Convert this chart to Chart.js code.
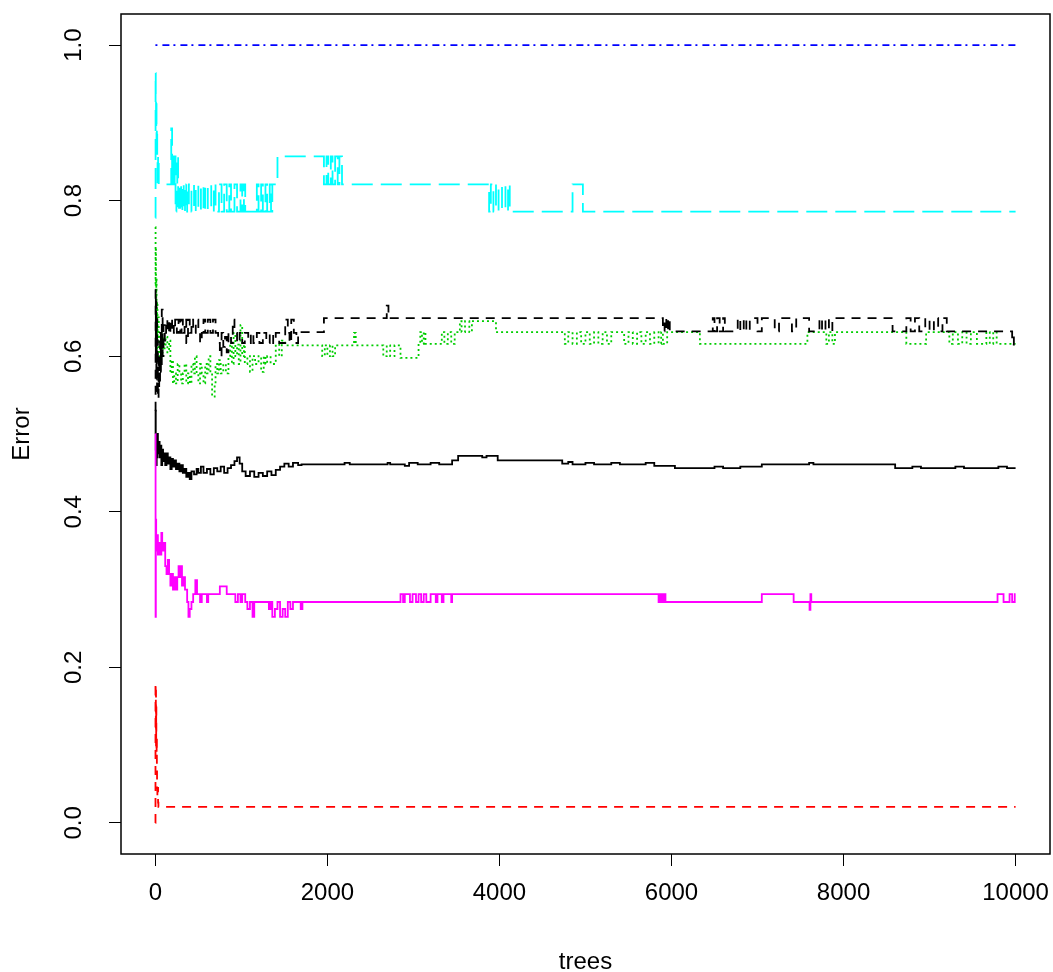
<!DOCTYPE html>
<html><head><meta charset="utf-8">
<script src="https://cdn.jsdelivr.net/npm/chart.js@4.4.1/dist/chart.umd.min.js"></script>
<style>html,body{margin:0;padding:0;background:#fff;} canvas{display:block;}</style>
</head><body>
<canvas id="c" width="1053" height="972" style="width:1053px;height:972px"></canvas>
<script>
// ---- data (trees, error) breakpoints ----
const xTicks = [0, 2000, 4000, 6000, 8000, 10000];
const yTicks = [0, 0.2, 0.4, 0.6, 0.8, 1.0];
const seriesNames = ['OOB', '1', '2', '3', '4', '5', '6'];

const oob = [[1,.50],[3,.53],[5,.48],[8,.50],[12,.46],[16,.49],[20,.47],[25,.50],[30,.475],[40,.49],[50,.47],[60,.485],[70,.46],[80,.48],[90,.465],[100,.475],[115,.46],[130,.475],[145,.462],[160,.47],[175,.455],[190,.468],[205,.458],[220,.466],[240,.455],[260,.462],[280,.452],[300,.46],[320,.45],[340,.455],[360,.445],[380,.45],[400,.442],[420,.452],[450,.448],[480,.455],[500,.45],[530,.458],[560,.45],[600,.455],[640,.448],[680,.456],[720,.452],[760,.458],[800,.45],[840,.456],[880,.46],[920,.465],[950,.47],[980,.462],[1010,.452],[1050,.446],[1100,.452],[1150,.445],[1200,.45],[1250,.446],[1300,.452],[1350,.447],[1400,.454],[1450,.458],[1500,.462],[1550,.458],[1600,.463],[1660,.46],[1700,.461],[2200,.463],[2260,.461],[2700,.463],[2730,.461],[2900,.459],[2950,.463],[3050,.461],[3200,.463],[3300,.461],[3450,.466],[3520,.472],[3800,.470],[3850,.472],[3980,.466],[4730,.462],[4800,.464],[4850,.461],[5000,.463],[5100,.461],[5300,.463],[5400,.461],[5700,.463],[5800,.459],[6040,.456],[6500,.458],[6600,.456],[6800,.458],[7050,.461],[7600,.463],[7650,.461],[8600,.456],[8800,.458],[8900,.456],[9300,.458],[9400,.456],[9800,.458],[9900,.456],[10000,.456]];

const class1 = [[1,0],[2,.18],[4,.12],[6,.17],[8,.10],[10,.15],[12,.09],[15,.11],[18,.07],[20,.045],[24,.033],[28,.045],[32,.026],[36,.0206],[10000,.0206]];

const class2 = [[1,.766],[3,.69],[5,.74],[8,.62],[11,.70],[15,.60],[20,.67],[25,.62],[30,.65],[40,.60],[55,.63],[70,.605],[85,.625],[100,.61],[120,.625],[140,.605],[160,.62],[175,.578],[190,.595],[205,.565],[220,.578],[240,.565],[260,.59],[280,.578],[300,.565],[320,.578],[340,.59],[360,.565],[380,.578],[400,.565],[420,.59],[440,.578],[460,.60],[480,.578],[500,.565],[520,.59],[540,.578],[560,.565],[580,.59],[600,.578],[620,.60],[640,.578],[660,.548],[690,.565],[700,.59],[720,.578],[740,.595],[760,.578],[790,.59],[820,.578],[850,.60],[870,.615],[890,.59],[910,.63],[930,.60],[950,.615],[970,.59],[990,.64],[1010,.60],[1030,.615],[1040,.59],[1070,.60],[1100,.58],[1130,.60],[1160,.59],[1200,.60],[1230,.58],[1260,.60],[1280,.59],[1300,.60],[1340,.59],[1400,.615],[1440,.60],[1470,.62],[1510,.614],[1940,.60],[1970,.614],[2000,.60],[2030,.614],[2060,.60],[2090,.614],[2310,.63],[2330,.614],[2650,.60],[2690,.614],[2730,.60],[2780,.614],[2850,.598],[3060,.616],[3080,.631],[3100,.616],[3120,.631],[3140,.616],[3330,.631],[3360,.616],[3400,.631],[3440,.616],[3480,.631],[3540,.645],[3560,.631],[3600,.645],[3650,.631],[3680,.645],[3960,.631],[4760,.616],[4800,.631],[4850,.616],[4900,.631],[4950,.616],[5000,.631],[5050,.616],[5100,.631],[5150,.616],[5200,.631],[5250,.616],[5300,.631],[5450,.616],[5500,.631],[5550,.616],[5600,.631],[5650,.616],[5700,.631],[5750,.616],[5800,.631],[5850,.616],[5880,.631],[5900,.616],[5950,.631],[6330,.616],[7580,.631],[7800,.616],[7830,.631],[7870,.616],[7900,.631],[8730,.616],[8960,.631],[9230,.616],[9270,.631],[9330,.616],[9380,.631],[9430,.616],[9480,.631],[9550,.616],[9660,.631],[9700,.616],[9740,.631],[9780,.616],[10000,.616]];

const class3 = [[1,1],[10000,1]];

const class4 = [[1,.778],[3,.964],[5,.929],[8,.893],[11,.929],[14,.857],[18,.893],[22,.857],[26,.821],[32,.857],[40,.821],[185,.893],[195,.821],[205,.857],[215,.821],[225,.857],[235,.786],[245,.821],[255,.857],[265,.786],[275,.821],[290,.786],[300,.821],[315,.786],[330,.821],[345,.786],[360,.821],[370,.786],[390,.821],[420,.786],[450,.821],[470,.786],[500,.821],[530,.786],[560,.821],[580,.786],[610,.821],[650,.786],[680,.821],[700,.786],[740,.821],[770,.786],[800,.821],[830,.786],[860,.821],[880,.786],[920,.821],[950,.786],[990,.821],[1010,.786],[1030,.821],[1045,.786],[1180,.821],[1200,.786],[1230,.821],[1250,.786],[1280,.821],[1300,.786],[1330,.821],[1345,.786],[1360,.821],[1420,.857],[1960,.821],[1990,.857],[2010,.821],[2040,.857],[2060,.821],[2090,.857],[2120,.821],[2140,.857],[2170,.821],[3880,.786],[3900,.821],[3930,.786],[3960,.821],[3990,.786],[4030,.821],[4070,.786],[4100,.821],[4120,.786],[4850,.821],[4970,.786],[10000,.786]];

const class5 = [[1,.50],[3,.265],[6,.39],[10,.35],[20,.37],[30,.345],[40,.36],[55,.345],[70,.373],[80,.35],[95,.36],[115,.33],[130,.32],[145,.338],[160,.32],[175,.305],[190,.32],[205,.30],[220,.316],[240,.30],[255,.316],[270,.33],[285,.316],[300,.33],[310,.305],[330,.316],[345,.30],[370,.284],[385,.265],[400,.275],[420,.284],[440,.294],[465,.312],[485,.294],[520,.284],[540,.294],[600,.284],[615,.294],[750,.304],[830,.294],[930,.284],[960,.294],[990,.284],[1010,.294],[1045,.284],[1070,.275],[1100,.284],[1130,.265],[1150,.284],[1320,.275],[1340,.284],[1360,.265],[1390,.275],[1420,.284],[1450,.265],[1480,.275],[1510,.265],[1540,.284],[1570,.275],[1600,.284],[1690,.275],[1710,.284],[2850,.294],[2880,.284],[2900,.294],[2960,.284],[2990,.294],[3030,.284],[3060,.294],[3090,.284],[3120,.294],[3150,.284],[3200,.294],[3260,.284],[3280,.294],[3330,.284],[3350,.294],[3440,.284],[3450,.294],[5850,.284],[5870,.294],[5890,.284],[5910,.294],[5930,.284],[7050,.294],[7420,.284],[7605,.274],[7615,.294],[7625,.284],[9790,.294],[9860,.284],[9930,.294],[9960,.284],[9990,.294],[10000,.294]];

const class6 = [[1,.53],[3,.685],[6,.60],[9,.67],[12,.57],[16,.65],[20,.55],[25,.62],[30,.545],[38,.60],[45,.56],[55,.63],[65,.58],[75,.66],[85,.60],[95,.64],[110,.62],[125,.647],[140,.63],[160,.647],[175,.63],[195,.647],[215,.63],[230,.647],[250,.63],[270,.647],[290,.63],[305,.647],[320,.63],[340,.647],[360,.617],[380,.647],[400,.63],[420,.647],[440,.63],[470,.647],[500,.63],[520,.617],[540,.63],[560,.647],[580,.63],[610,.647],[640,.63],[670,.647],[700,.63],[730,.617],[750,.60],[770,.63],[790,.612],[810,.625],[830,.605],[850,.63],[880,.617],[900,.647],[920,.63],[950,.617],[980,.63],[1010,.617],[1040,.63],[1080,.617],[1110,.63],[1140,.617],[1180,.63],[1210,.617],[1250,.63],[1290,.617],[1330,.63],[1370,.617],[1400,.63],[1440,.617],[1510,.647],[1540,.63],[1560,.617],[1580,.647],[1610,.63],[1640,.617],[1660,.631],[1960,.649],[2690,.665],[2710,.649],[5900,.632],[5920,.649],[5940,.632],[5960,.649],[5980,.632],[6480,.649],[6500,.632],[6530,.649],[6560,.632],[6600,.649],[6620,.632],[6770,.649],[6800,.632],[6840,.649],[6870,.632],[6910,.649],[7000,.632],[7050,.649],[7200,.632],[7250,.649],[7400,.632],[7450,.649],[7600,.632],[7720,.649],[7750,.632],[7790,.649],[7830,.632],[7870,.649],[8570,.632],[8730,.649],[8780,.632],[8830,.649],[8880,.632],[8950,.649],[9000,.632],[9050,.649],[9100,.632],[9150,.649],[9200,.632],[9960,.615],[9980,.632],[10000,.632]];

// ---- styling ----
const seriesData = [oob, class1, class2, class3, class4, class5, class6];
const seriesColors = ['#000000', '#FF0000', '#00CD00', '#0000FF', '#00FFFF', '#FF00FF', '#000000'];
const seriesDash = [[], [9, 7], [2, 3], [2, 5, 7, 4], [21, 8], [], [9, 7]];
const FONT = "'Liberation Sans', Arial, sans-serif";

const datasets = seriesData.map((d, i) => ({
  label: seriesNames[i],
  data: d.map(p => ({ x: p[0], y: p[1] })),
  borderColor: seriesColors[i],
  backgroundColor: seriesColors[i],
  borderDash: seriesDash[i],
  borderWidth: 1.8,
  pointRadius: 0,
  stepped: true,
  fill: false,
  tension: 0,
  order: seriesData.length - 1 - i
}));

const boxPlugin = {
  id: 'box',
  afterDraw(chart) {
    const a = chart.chartArea, ctx = chart.ctx;
    ctx.save();
    ctx.strokeStyle = '#000';
    ctx.lineWidth = 1.5;
    ctx.strokeRect(a.left, a.top, a.right - a.left, a.bottom - a.top);
    ctx.restore();
  }
};

new Chart(document.getElementById('c'), {
  type: 'line',
  data: { datasets },
  plugins: [boxPlugin],
  options: {
    responsive: false,
    animation: false,
    devicePixelRatio: 1,
    parsing: false,
    layout: { padding: { top: 14, right: 3, left: 0, bottom: 0 } },
    plugins: { legend: { display: false }, tooltip: { enabled: false } },
    scales: {
      x: {
        type: 'linear',
        min: -398.96, max: 10399.96,
        afterBuildTicks: s => { s.ticks = xTicks.map(v => ({ value: v })); },
        afterFit: s => { s.height = 118; s.paddingLeft = 0; s.paddingRight = 0; },
        grid: { display: true, drawOnChartArea: false, drawTicks: true, tickLength: 12, color: '#000', lineWidth: 1 },
        border: { display: false },
        ticks: { autoSkip: false, maxRotation: 0, minRotation: 0, padding: 13, color: '#000',
                 font: { family: FONT, size: 24 }, callback: v => String(v) },
        title: { display: true, text: 'trees', color: '#000', font: { family: FONT, size: 24, lineHeight: 0.8 }, padding: { top: 0, bottom: 0 } }
      },
      y: {
        type: 'linear',
        min: -0.04, max: 1.04,
        afterBuildTicks: s => { s.ticks = yTicks.map(v => ({ value: v })); },
        afterFit: s => { s.width = 121; s.paddingTop = 0; s.paddingBottom = 0; },
        grid: { display: true, drawOnChartArea: false, drawTicks: true, tickLength: 12, color: '#000', lineWidth: 1 },
        border: { display: false },
        ticks: { autoSkip: false, minRotation: 90, maxRotation: 90, crossAlign: 'center', padding: 18, color: '#000',
                 font: { family: FONT, size: 24 }, callback: v => Number(v).toFixed(1) },
        title: { display: true, text: 'Error', color: '#000', font: { family: FONT, size: 24 }, padding: { top: 8, bottom: 0 } }
      }
    }
  }
});
</script>
</body></html>
